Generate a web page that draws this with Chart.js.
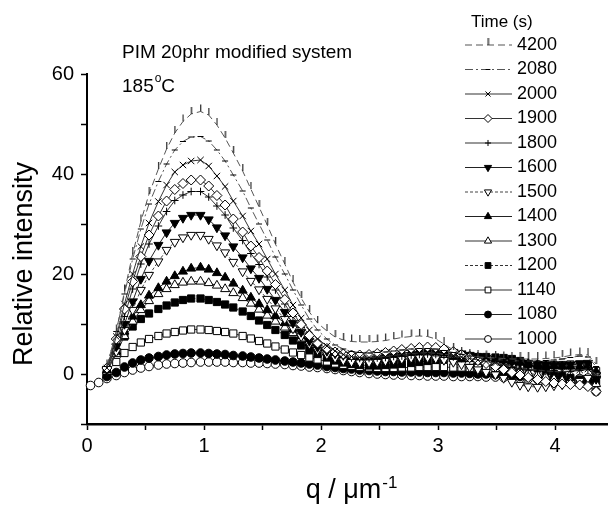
<!DOCTYPE html>
<html>
<head>
<meta charset="utf-8">
<script src="https://cdn.jsdelivr.net/npm/chart.js@4.4.1/dist/chart.umd.min.js"></script>
<style>
  html, body { margin: 0; padding: 0; background: #fff; }
  canvas { display: block; }
</style>
</head>
<body>
<canvas id="chart" width="614" height="510"></canvas>
<script>
// scattering vector q (um^-1), shared by every curve
const q = [0.03,0.10,0.17,0.25,0.32,0.39,0.46,0.53,0.61,0.68,0.75,0.82,0.89,0.97,1.04,1.11,1.18,1.25,1.33,1.40,
  1.47,1.54,1.61,1.69,1.76,1.83,1.90,1.97,2.05,2.12,2.19,2.26,2.33,2.41,2.48,2.55,2.62,2.69,2.77,2.84,
  2.91,2.98,3.05,3.13,3.20,3.27,3.34,3.41,3.49,3.56,3.63,3.70,3.77,3.85,3.92,3.99,4.06,4.13,4.21,4.28,4.35];

// relative intensity, one array per annealing time
const i4200 = [null,null,1.5,8.5,16.5,24.0,30.5,36.0,41.0,45.0, 48.2,50.5,52.0,52.5,51.8,49.8,47.2,44.2,40.6,37.0,
  33.4,29.8,26.0,22.0,18.4,15.2,12.4,10.2,8.6,7.4, 6.8,6.5,6.4,6.4,6.5,6.7,7.0,7.3,7.5,7.6,
  7.5,7.0,6.0,4.8,4.0,3.6,3.4,3.3,3.2,3.1, 3.0,3.0,3.0,3.0,3.1,3.2,3.4,3.7,3.9,3.8, 2.0];
const i2080 = [null,null,1.5,8.5,16.0,23.0,29.0,34.0,38.5,42.0, 44.8,46.5,47.4,47.5,46.6,44.8,42.6,39.8,36.6,33.2,
  30.0,26.8,23.4,20.0,16.8,13.8,11.0,8.8,7.0,5.8, 5.0,4.5,4.3,4.2,4.3,4.4,4.6,4.8,5.0,5.1,
  5.1,5.0,4.7,4.3,3.9,3.6,3.3,3.1,2.9,2.8, 2.7,2.6,2.6,2.6,2.7,2.8,3.0,3.3,3.6,3.4, 1.5];
const i2000 = [null,null,1.2,7.5,14.0,20.0,25.5,30.2,34.5,37.8, 40.4,41.8,42.6,42.8,41.6,39.6,37.5,34.6,31.6,28.6,
  26.0,23.0,20.0,16.8,13.8,11.2,8.8,7.0,5.6,4.6, 3.9,3.5,3.3,3.3,3.4,3.5,3.7,3.9,4.1,4.2,
  4.3,4.2,4.0,3.7,3.4,3.1,2.8,2.5,2.2,1.9, 1.6,1.3,1.0,0.8,0.6,0.5,0.5,0.6,0.8,1.0, -0.5];
const i1900 = [null,null,1.2,7.0,13.0,18.5,23.5,27.8,31.6,34.6, 36.9,38.1,38.8,38.8,37.6,35.7,33.8,31.0,28.4,25.6,
  23.3,20.6,17.9,14.9,12.2,9.9,7.7,6.2,5.1,4.4, 4.0,3.8,3.8,3.9,4.1,4.3,4.6,4.9,5.1,5.3,
  5.4,5.3,5.0,4.5,3.9,3.3,2.7,2.1,1.5,0.9, 0.3,-0.2,-0.7,-1.1,-1.5,-1.8,-2.0,-2.1,-2.2,-2.5, -3.5];
const i1800 = [null,null,1.0,6.0,11.5,17.0,22.0,26.0,29.6,32.5, 34.7,35.8,36.5,36.5,35.4,33.6,31.8,29.2,26.7,24.1,
  21.9,19.4,16.8,14.0,11.5,9.3,7.2,5.8,4.7,4.0, 3.5,3.2,3.1,3.1,3.2,3.3,3.5,3.6,3.8,3.9,
  4.0,3.9,3.7,3.4,3.1,2.8,2.5,2.2,1.9,1.6, 1.3,1.0,0.8,0.6,0.5,0.4,0.4,0.5,0.7,0.9, 0.0];
const i1600 = [null,null,1.0,5.5,10.0,14.5,19.0,22.6,25.8,28.3, 30.2,31.2,31.8,31.8,30.9,29.3,27.7,25.5,23.3,21.1,
  19.2,17.0,14.8,12.4,10.2,8.4,6.6,5.4,4.6,4.1, 3.8,3.7,3.7,3.8,4.0,4.2,4.4,4.6,4.8,4.9,
  5.0,4.9,4.7,4.4,4.1,3.8,3.5,3.2,3.0,2.8, 2.6,2.4,2.2,2.0,1.9,1.8,1.8,1.9,2.1,2.2, -1.0];
const i1500 = [null,null,0.8,4.5,8.8,12.8,16.8,19.8,22.5,24.8, 26.4,27.3,27.8,27.8,27.0,25.7,24.3,22.4,20.5,18.6,
  16.9,15.0,13.1,11.0,9.1,7.5,6.0,4.8,3.9,3.2, 2.7,2.4,2.3,2.3,2.4,2.6,2.8,3.0,3.2,3.3,
  3.3,3.1,2.8,2.4,1.9,1.4,0.9,0.4,-0.1,-0.8, -1.6,-2.2,-2.5,-2.6,-2.5,-2.3,-2.1,-1.8,-1.4,-0.8, -0.2];
const i1400 = [null,null,0.8,4.5,8.5,11.5,13.8,15.7,17.2,18.5, 19.6,20.5,21.1,21.3,20.9,20.2,19.3,18.1,16.7,15.3,
  14.0,12.8,11.6,10.2,8.9,7.6,6.2,5.1,4.3,3.8, 3.5,3.4,3.4,3.5,3.6,3.8,4.0,4.2,4.4,4.6,
  4.7,4.7,4.5,4.2,3.9,3.6,3.3,3.1,2.9,2.7, 2.5,2.3,2.1,1.9,1.7,1.6,1.5,1.5,1.4,1.6, 0.5];
const i1300 = [null,null,0.5,4.0,7.6,10.5,12.8,14.6,16.0,17.0, 17.8,18.3,18.5,18.5,18.2,17.7,17.0,16.2,15.2,14.1,
  12.9,11.7,10.5,9.3,8.2,7.1,6.1,5.2,4.4,3.8, 3.3,3.0,2.8,2.8,2.9,3.0,3.2,3.4,3.6,3.8,
  3.9,4.0,3.9,3.7,3.4,3.0,2.6,2.2,1.8,1.4, 1.0,0.6,0.2,-0.2,-0.6,-1.0,-1.3,-1.6,-1.9,-2.1, -2.0];
const i1200 = [null,null,0.3,4.5,7.5,9.5,11.0,12.1,13.0,13.7, 14.3,14.8,15.1,15.1,14.8,14.4,13.9,13.3,12.5,11.6,
  10.7,9.8,8.8,7.8,6.7,5.7,4.8,4.0,3.3,2.7, 2.3,2.0,1.8,1.7,1.7,1.8,1.9,2.0,2.2,2.4,
  2.6,2.8,3.0,3.1,3.2,3.3,3.4,3.4,3.3,3.2, 3.0,2.6,2.0,1.2,0.5,0.0,-0.4,-0.8,-1.1,-1.4, -1.8];
const i1140 = [null,null,0.5,2.4,4.2,5.4,6.3,7.0,7.6,8.1, 8.4,8.7,8.9,8.9,8.8,8.6,8.4,8.1,7.6,7.1,
  6.6,6.1,5.5,4.9,4.3,3.8,3.3,2.9,2.5,2.1, 1.8,1.6,1.4,1.3,1.2,1.2,1.2,1.3,1.3,1.4,
  1.4,1.4,1.4,1.3,1.3,1.2,1.2,1.2,1.2,1.2, 1.3,1.4,1.5,1.6,1.7,1.8,1.8,1.9,1.9,1.6, 0.6];
const i1080 = [null,null,-0.5,0.3,1.4,2.2,2.8,3.2,3.5,3.8, 4.0,4.1,4.2,4.2,4.1,4.0,3.9,3.7,3.6,3.4,
  3.2,3.0,2.8,2.6,2.4,2.2,2.0,1.8,1.5,1.3, 1.1,1.0,0.8,0.7,0.6,0.5,0.5,0.4,0.4,0.4,
  0.3,0.3,0.3,0.2,0.2,0.1,0.0,0.0,-0.1,-0.2, -0.3,-0.5,-0.6,-0.8,-1.0,-1.2,-1.4,-1.6,-1.9,-2.3, -3.5];
const i1000 = [-2.3,-1.7,-0.9,-0.3,0.3,0.8,1.2,1.5,1.8,2.0, 2.1,2.2,2.3,2.4,2.4,2.4,2.4,2.3,2.3,2.2,
  2.2,2.1,2.0,1.9,1.7,1.6,1.4,1.3,1.1,0.9, 0.7,0.5,0.3,0.1,0.0,-0.1,-0.2,-0.2,-0.3,-0.3,
  -0.4,-0.4,-0.4,-0.5,-0.5,-0.5,-0.5,-0.6,-0.6,-0.7, -0.8,-0.9,-1.0,-1.1,-1.1,-1.1,-1.0,-1.0,-0.9,-0.8, -0.6];

const times = ['4200','2080','2000','1900','1800','1600','1500','1400','1300','1200','1140','1080','1000'];
const xTickLabels = [0, 1, 2, 3, 4];
const yTickLabels = [0, 20, 40, 60];

const FONT = "'Liberation Sans', Arial, Helvetica, sans-serif";

// small vertical bar used as the marker of the 4200 s curve
const barMark = document.createElement('canvas');
barMark.width = 3;
barMark.height = 16;
const bctx = barMark.getContext('2d');
bctx.fillStyle = '#333';
bctx.fillRect(1, 1, 1.3, 7);

// marker / line look of each curve, same order as times
const looks = [
  { values: i4200, style: barMark, r: 4, fill: '#333', dash: [7, 4], line: '#555' },
  { values: i2080, style: 'line', r: 3, fill: '#333', dash: [8, 3, 2, 3], line: '#555' },
  { values: i2000, style: 'crossRot', r: 4.5, fill: '#000', dash: [], line: '#333' },
  { values: i1900, style: 'rectRot', r: 5, fill: '#fff', dash: [], line: '#333' },
  { values: i1800, style: 'cross', r: 3.8, fill: '#000', dash: [], line: '#333' },
  { values: i1600, style: 'triangle', rot: 180, r: 5.2, fill: '#000', dash: [], line: '#222' },
  { values: i1500, style: 'triangle', rot: 180, r: 5.2, fill: '#fff', dash: [3, 2], line: '#444' },
  { values: i1400, style: 'triangle', r: 5.2, fill: '#000', dash: [], line: '#222' },
  { values: i1300, style: 'triangle', r: 5.2, fill: '#fff', dash: [], line: '#333' },
  { values: i1200, style: 'rect', r: 5.1, fill: '#000', dash: [3, 2], line: '#333' },
  { values: i1140, style: 'rect', r: 5.1, fill: '#fff', dash: [], line: '#333' },
  { values: i1080, style: 'circle', r: 4.3, fill: '#000', dash: [], line: '#222' },
  { values: i1000, style: 'circle', r: 4.3, fill: '#fff', dash: [], line: '#333' }
];

const datasets = looks.map((s, k) => ({
  label: times[k],
  data: q.map((x, i) => ({ x: x, y: s.values[i] })),
  showLine: true,
  borderColor: s.line,
  borderWidth: 1,
  borderDash: s.dash,
  pointStyle: s.style,
  pointRotation: s.rot || 0,
  pointRadius: s.r,
  pointBackgroundColor: s.fill,
  pointBorderColor: '#000',
  pointBorderWidth: 1,
  clip: false
}));

function drawMarker(ctx, s, x, y) {
  ctx.save();
  ctx.fillStyle = s.fill;
  ctx.strokeStyle = '#000';
  ctx.lineWidth = 1;
  ctx.setLineDash([]);
  Chart.helpers.drawPoint(ctx, { pointStyle: s.style, rotation: s.rot || 0, radius: s.r * 0.8, borderWidth: 1 }, x, y);
  ctx.restore();
}

const overlay = {
  id: 'overlay',
  afterDraw(chart) {
    const ctx = chart.ctx;
    ctx.save();
    ctx.fillStyle = '#000';
    ctx.textAlign = 'left';
    ctx.textBaseline = 'alphabetic';

    // annotation
    ctx.font = '19px ' + FONT;
    ctx.fillText('PIM 20phr modified system', 122, 58);
    ctx.fillText('185', 122, 92);
    const w185 = ctx.measureText('185').width;
    ctx.font = '12px ' + FONT;
    ctx.fillText('o', 122 + w185 + 1, 82);
    const wo = ctx.measureText('o').width;
    ctx.font = '19px ' + FONT;
    ctx.fillText('C', 122 + w185 + wo + 1, 92);

    // legend
    ctx.font = '17px ' + FONT;
    ctx.textBaseline = 'middle';
    ctx.fillText('Time (s)', 471, 22);
    ctx.font = '18px ' + FONT;
    looks.forEach((s, k) => {
      const y = 45 + k * 24.5;
      ctx.save();
      ctx.strokeStyle = s.line;
      ctx.lineWidth = 1.2;
      ctx.setLineDash(s.dash.length ? s.dash : []);
      ctx.beginPath();
      ctx.moveTo(465, y);
      ctx.lineTo(512, y);
      ctx.stroke();
      ctx.restore();
      drawMarker(ctx, s, 488, y);
      ctx.fillStyle = '#000';
      ctx.fillText(times[k], 517, y);
    });

    // y axis title
    ctx.save();
    ctx.translate(32, 264);
    ctx.rotate(-Math.PI / 2);
    ctx.font = '27px ' + FONT;
    ctx.textAlign = 'center';
    ctx.textBaseline = 'alphabetic';
    ctx.fillText('Relative intensity', 0, 0);
    ctx.restore();

    // x axis title with superscript
    ctx.textBaseline = 'alphabetic';
    ctx.font = '27px ' + FONT;
    const main = 'q / \u03bcm';
    const wm = ctx.measureText(main).width;
    ctx.font = '17px ' + FONT;
    const ws = ctx.measureText('-1').width;
    const x0 = 351 - (wm + ws) / 2;
    ctx.font = '27px ' + FONT;
    ctx.fillText(main, x0, 498);
    ctx.font = '17px ' + FONT;
    ctx.fillText('-1', x0 + wm + 1, 488);

    ctx.restore();
  }
};

new Chart(document.getElementById('chart'), {
  type: 'scatter',
  data: { datasets: datasets },
  plugins: [overlay],
  options: {
    responsive: false,
    animation: false,
    layout: { padding: { top: 74, left: 0, right: 0, bottom: 0 } },
    plugins: {
      legend: { display: false },
      tooltip: { enabled: false }
    },
    scales: {
      x: {
        type: 'linear',
        min: 0,
        max: 4.45,
        afterFit: s => { s.height = 86; },
        border: { display: true, color: '#000', width: 2.5 },
        grid: { drawOnChartArea: false, drawTicks: true, tickLength: 6, tickColor: '#000', tickWidth: 1.5 },
        ticks: {
          stepSize: 0.5,
          includeBounds: false,
          autoSkip: false,
          maxRotation: 0,
          padding: 4,
          color: '#000',
          font: { family: FONT, size: 20 },
          callback: v => xTickLabels.includes(v) ? String(v) : ''
        }
      },
      y: {
        type: 'linear',
        min: -10,
        max: 60,
        afterFit: s => { s.width = 87; },
        border: { display: true, color: '#000', width: 2 },
        grid: { drawOnChartArea: false, drawTicks: true, tickLength: 6, tickColor: '#000', tickWidth: 1.5 },
        ticks: {
          stepSize: 10,
          autoSkip: false,
          padding: 7,
          color: '#000',
          font: { family: FONT, size: 20 },
          callback: v => yTickLabels.includes(v) ? String(v) : ''
        }
      }
    }
  }
});
</script>
</body>
</html>
